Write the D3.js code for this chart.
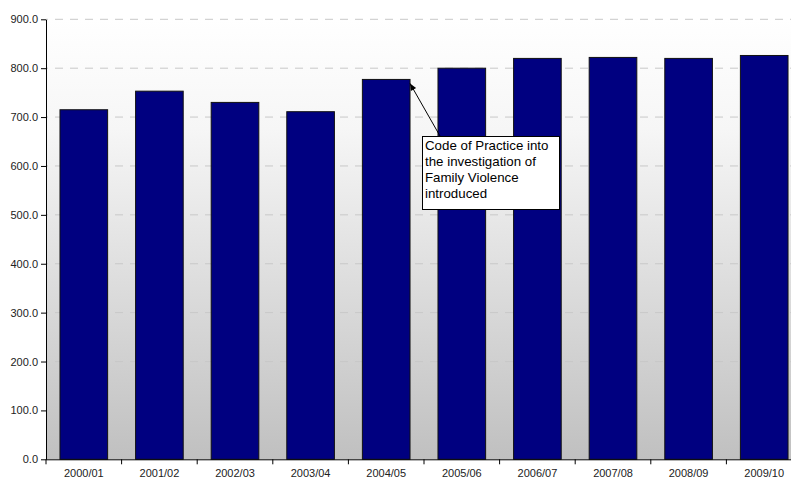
<!DOCTYPE html>
<html><head><meta charset="utf-8">
<script src="https://cdn.jsdelivr.net/npm/d3@7"></script>
<style>html,body{margin:0;padding:0;background:#fff;overflow:hidden}</style>
</head><body>
<svg id="chart" width="791" height="478"></svg>
<script>
const categories = ["2000/01","2001/02","2002/03","2003/04","2004/05","2005/06","2006/07","2007/08","2008/09","2009/10"];
const values = [715, 753, 730, 711, 777, 800, 820, 822, 820, 826];
const yTicks = [0,100,200,300,400,500,600,700,800,900];
const annotationLines = ["Code of Practice into","the investigation of","Family Violence","introduced"];
const annotationCategory = "2004/05";

const svg = d3.select("#chart");
const mLeft = 46, mRight = 802, mTop = 19.3, mBottom = 459.3;
const x = d3.scaleBand().domain(categories).range([mLeft, mRight]).paddingInner(0.37).paddingOuter(0.185);
const xb = d3.scaleBand().domain(categories).range([mLeft, mRight]);
const y = d3.scaleLinear().domain([0, 900]).range([mBottom, mTop]);
const font = "Liberation Sans, Arial, sans-serif";

const defs = svg.append("defs");
const grad = defs.append("linearGradient").attr("id","bg").attr("x1",0).attr("y1",0).attr("x2",0).attr("y2",1);
grad.append("stop").attr("offset","0%").attr("stop-color","#ffffff");
grad.append("stop").attr("offset","25%").attr("stop-color","#f6f6f6");
grad.append("stop").attr("offset","100%").attr("stop-color","#c0c0c0");
svg.append("rect").attr("x",mLeft).attr("y",mTop).attr("width",mRight-mLeft).attr("height",mBottom-mTop).attr("fill","url(#bg)");

// gridlines
svg.append("g").selectAll("line").data(yTicks.filter(d=>d>0)).join("line")
  .attr("x1",mLeft).attr("x2",mRight).attr("y1",d=>y(d)).attr("y2",d=>y(d))
  .attr("stroke","#c8c8c8").attr("stroke-width",1).attr("stroke-dasharray","8,7").attr("stroke-dashoffset",-9);

// bars
svg.append("g").selectAll("rect").data(values).join("rect")
  .attr("x",(d,i)=>x(categories[i])).attr("width",x.bandwidth())
  .attr("y",d=>y(d)).attr("height",d=>mBottom-y(d))
  .attr("fill","#000080").attr("stroke","#111").attr("stroke-width",1);

// y axis
const ya = svg.append("g").attr("transform",`translate(${mLeft},0)`)
  .call(d3.axisLeft(y).tickValues(yTicks).tickFormat(d3.format(".1f")).tickSize(5).tickSizeOuter(0));
ya.select(".domain").attr("stroke","#000");
ya.selectAll("text").attr("font-family",font).attr("font-size",11).attr("fill","#222").attr("x",-8);

// x axis
const xa = svg.append("g").attr("transform",`translate(0,${mBottom})`)
  .call(d3.axisBottom(x).tickSize(0).tickSizeOuter(0));
xa.select(".domain").attr("stroke","#000").attr("d",`M${mLeft},0.5H${mRight}`);
xa.selectAll("text").attr("font-family",font).attr("font-size",11).attr("fill","#222").attr("y",17.5).attr("dy",0);
svg.append("g").selectAll("line").data(categories).join("line")
  .attr("x1",d=>xb(d)).attr("x2",d=>xb(d)).attr("y1",mBottom).attr("y2",mBottom+5).attr("stroke","#000");

// annotation
const ai = categories.indexOf(annotationCategory);
const tipX = x(annotationCategory) + x.bandwidth(), tipY = y(values[ai]) + 4;
const boxX = 422, boxY = 136, boxW = 137, boxH = 73;
const startX = 440, startY = boxY;
svg.append("line").attr("x1",startX).attr("y1",startY).attr("x2",tipX).attr("y2",tipY).attr("stroke","#000").attr("stroke-width",1);
const ang = Math.atan2(tipY-startY, tipX-startX);
const ah = 7, aw = 3;
const p = [[tipX,tipY],[tipX-ah*Math.cos(ang)+aw*Math.sin(ang), tipY-ah*Math.sin(ang)-aw*Math.cos(ang)],[tipX-ah*Math.cos(ang)-aw*Math.sin(ang), tipY-ah*Math.sin(ang)+aw*Math.cos(ang)]];
svg.append("path").attr("d","M"+p.join("L")+"Z").attr("fill","#000");
svg.append("rect").attr("x",boxX+0.5).attr("y",boxY+0.5).attr("width",boxW).attr("height",boxH).attr("fill","#fff").attr("stroke","#000");
svg.append("text").attr("font-family",font).attr("font-size",13.3).attr("fill","#000")
  .selectAll("tspan").data(annotationLines).join("tspan")
  .attr("x",boxX+3).attr("y",(d,i)=>149.5+i*16).text(d=>d);
</script>
</body></html>
